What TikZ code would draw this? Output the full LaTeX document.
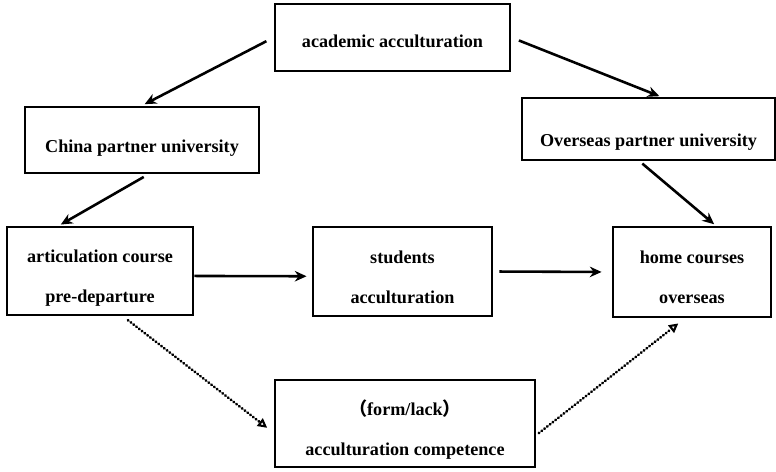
\documentclass[tikz,border=0pt]{standalone}
\usepackage{fontspec}
\setmainfont{Liberation Serif}
\newfontfamily\cjk{Noto Sans CJK SC}
\usetikzlibrary{arrows.meta}

\tikzset{
  box/.style={draw, line width=2.5pt, align=center, inner sep=0pt, font=\bfseries\fontsize{15.5}{34}\selectfont},
  flow/.style={-{Stealth[length=10pt, width=9pt]}, line width=2.2pt},
  weak/.style={line width=2.3pt, line cap=round, dash pattern=on 0.5pt off 2.5pt, -{Triangle[open, length=8pt, width=8pt, line width=1.8pt]}},
}

\begin{document}
\begin{tikzpicture}[x=0.03cm, y=-0.03cm]
\useasboundingbox (0,0) rectangle (776,471);

\node[box, minimum width=7.05cm, minimum height=2.01cm, text height=16.6pt, text depth=0pt] (acad) at (392.5,37.5) {academic acculturation};
\node[box, minimum width=7.02cm, minimum height=1.98cm, text height=20.8pt, text depth=0pt] (china) at (142,140) {China partner university};
\node[box, minimum width=7.59cm, minimum height=1.86cm, text height=29.2pt, text depth=0pt] (overseas) at (648.5,129) {Overseas partner university};

\node[box, minimum width=5.58cm, minimum height=2.64cm, text height=62pt, text depth=8pt] (artic) at (100,271) {articulation course\\pre-departure};
\node[box, minimum width=5.37cm, minimum height=2.67cm, text height=62pt, text depth=8pt] (stud) at (402.5,271.5) {students\\acculturation};
\node[box, minimum width=4.74cm, minimum height=2.7cm, text height=62pt, text depth=8pt] (home) at (692,272) {home courses\\overseas};

\node[box, minimum width=7.8cm, minimum height=2.61cm, text height=62pt, text depth=8pt] (comp) at (405,423.5) {{\cjk （}form/lack{\cjk ）}\\acculturation competence};

\draw[flow, shorten <=0.24cm, shorten >=0.09cm] (acad.west) -- (china.north);
\draw[flow, shorten <=0.24cm, shorten >=0.03cm] (acad.east) -- (overseas.70);
\draw[flow, shorten <=0.15cm, shorten >=0.06cm] (china.-80) -- (artic.132);
\draw[flow, shorten <=0.1cm, shorten >=0.06cm] (overseas.-105) -- (home.63);
\draw[flow, shorten >=0.15cm] (artic.-3) -- (stud.183);
\draw[flow, shorten <=0.18cm, shorten >=0.3cm] (stud.east) -- (home.west);

\draw[weak, shorten <=0.18cm, shorten >=0.24cm] (artic.-63) -- (comp.184);
\draw[weak, shorten <=0.09cm, shorten >=0.24cm] (comp.-5) -- (home.-99);

\end{tikzpicture}
\end{document}
